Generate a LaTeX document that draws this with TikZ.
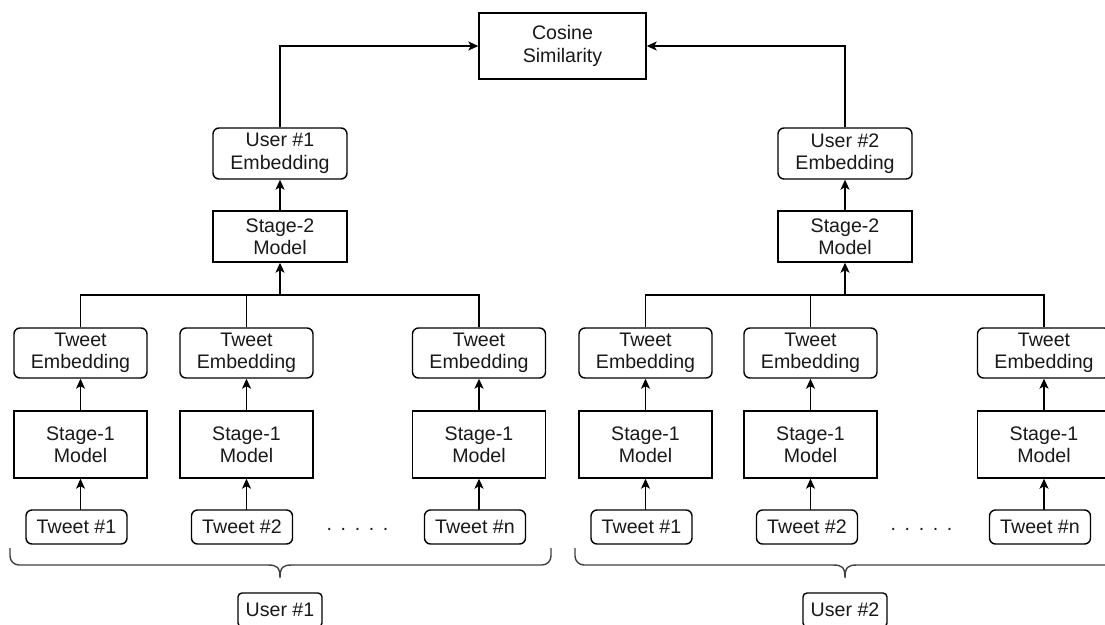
\documentclass[tikz,border=0pt]{standalone}
\usepackage{fontspec}
\setmainfont{Liberation Sans}
\usetikzlibrary{arrows.meta}
\begin{document}
\begin{tikzpicture}[x=1pt,y=-1pt,
  every node/.style={font=\fontsize{19.6}{22.5}\selectfont, text=black!90},
  box/.style={draw, line width=1.4pt, inner sep=0pt, align=center},
  rbox/.style={box, rounded corners=6pt},
  tebox/.style={rbox, minimum width=133pt, minimum height=50pt},
  sonebox/.style={box, minimum width=133pt, minimum height=67pt},
  twbox/.style={rbox, minimum width=101pt, minimum height=34pt},
  line/.style={line width=1.4pt},
  arr/.style={line, -{Stealth[length=10pt,width=9pt,inset=2.5pt]}}
]
\useasboundingbox (0,0) rectangle (1105,624);
\clip (0,0) rectangle (1105,624);
\fill[white] (0,0) rectangle (1105,624);

% top
\node[box, minimum width=167pt, minimum height=66pt] (cos) at (562.5,46) {Cosine\\Similarity};

% left user
\node[rbox, minimum width=134pt, minimum height=51pt] (ue1) at (280,153.5) {User \#1\\Embedding};
\node[box, minimum width=134pt, minimum height=51pt] (s2a) at (280,236.5) {Stage-2\\Model};
% right user
\node[rbox, minimum width=134pt, minimum height=51pt] (ue2) at (845,153.5) {User \#2\\Embedding};
\node[box, minimum width=134pt, minimum height=51pt] (s2b) at (845,236.5) {Stage-2\\Model};

% columns left
\node[tebox] (tea1) at (80.5,353) {Tweet\\Embedding};
\node[tebox] (tea2) at (246.5,353) {Tweet\\Embedding};
\node[tebox] (tea3) at (479,353) {Tweet\\Embedding};
\node[sonebox] (sa1) at (80.5,444.5) {Stage-1\\Model};
\node[sonebox] (sa2) at (246.5,444.5) {Stage-1\\Model};
\node[sonebox] (sa3) at (479,444.5) {Stage-1\\Model};
\node[twbox] (twa1) at (76.5,527) {Tweet \#1};
\node[twbox] (twa2) at (242,527) {Tweet \#2};
\node[twbox] (twa3) at (475,527) {Tweet \#n};

% columns right
\node[tebox] (teb1) at (645.5,353) {Tweet\\Embedding};
\node[tebox] (teb2) at (810.5,353) {Tweet\\Embedding};
\node[tebox] (teb3) at (1044,353) {Tweet\\Embedding};
\node[sonebox] (sb1) at (645.5,444.5) {Stage-1\\Model};
\node[sonebox] (sb2) at (810.5,444.5) {Stage-1\\Model};
\node[sonebox] (sb3) at (1044,444.5) {Stage-1\\Model};
\node[twbox] (twb1) at (641.5,527) {Tweet \#1};
\node[twbox] (twb2) at (807,527) {Tweet \#2};
\node[twbox] (twb3) at (1040,527) {Tweet \#n};

% dots
\node[anchor=base, inner sep=0pt] (dotsa) at (357.5,530) {.\hspace{8.6pt}.\hspace{8.6pt}.\hspace{8.6pt}.\hspace{8.6pt}.};
\node[anchor=base, inner sep=0pt] (dotsb) at (921.5,530) {.\hspace{8.6pt}.\hspace{8.6pt}.\hspace{8.6pt}.\hspace{8.6pt}.};

% user labels
\node[rbox, minimum width=84pt, minimum height=34pt, rounded corners=4pt] (ua) at (280,610) {User \#1};
\node[rbox, minimum width=84pt, minimum height=34pt, rounded corners=4pt] (ub) at (845,610) {User \#2};

% arrows tweet -> stage1 -> embedding
\foreach \g in {a,b}{
  \foreach \i in {1,2,3}{
    \draw[arr] (tw\g\i) -- (s\g\i |- tw\g\i.north) -- (s\g\i);
    \draw[arr] (s\g\i) -- (te\g\i);
  }
}

% buses
\coordinate (busa) at (280,295);
\coordinate (busb) at (845,295);
\draw[line] (tea1.north) |- (busa) -| (tea3.north);
\draw[line] (tea2.north) -- (tea2.north |- busa);
\draw[arr] (busa) -- (s2a);
\draw[arr] (s2a) -- (ue1);
\draw[line] (teb1.north) |- (busb) -| (teb3.north);
\draw[line] (teb2.north) -- (teb2.north |- busb);
\draw[arr] (busb) -- (s2b);
\draw[arr] (s2b) -- (ue2);

% to cosine
\draw[arr] (ue1.north) |- (cos.west);
\draw[arr] (ue2.north) |- (cos.east);

% braces
\draw[line, black!75, rounded corners=9pt] (10,548) -- (10,565) -- (268,565);
\draw[line, black!75] (268,565) .. controls (277,565) and (280,567) .. (280,578) .. controls (280,567) and (283,565) .. (292,565);
\draw[line, black!75, rounded corners=9pt] (292,565) -- (551,565) -- (551,548);

\draw[line, black!75, rounded corners=9pt] (575,548) -- (575,565) -- (833,565);
\draw[line, black!75] (833,565) .. controls (842,565) and (845,567) .. (845,578) .. controls (845,567) and (848,565) .. (857,565);
\draw[line, black!75, rounded corners=9pt] (857,565) -- (1116,565) -- (1116,548);
\end{tikzpicture}
\end{document}
